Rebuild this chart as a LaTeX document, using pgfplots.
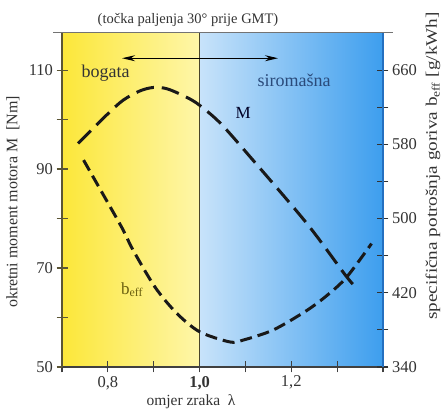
\documentclass[border=0pt]{standalone}
\usepackage{pgfplots}
\pgfplotsset{compat=1.18}
\usepackage{fontspec}
\setmainfont{Liberation Serif}
\usetikzlibrary{arrows.meta}

\definecolor{yelL}{HTML}{FCE73A}
\definecolor{yelR}{HTML}{FEF6A8}
\definecolor{bluL}{HTML}{C8E3FA}
\definecolor{bluR}{HTML}{3D9EEE}
\definecolor{olive}{HTML}{5B5535}
\definecolor{rblue}{HTML}{2470C0}
\definecolor{beffc}{HTML}{6B6010}
\definecolor{siro}{HTML}{2A4A7A}

\pgfplotsset{
  common/.style={
    at={(0,0)}, anchor=south west,
    scale only axis, width=321pt, height=334pt,
    xmin=0.7, xmax=1.4,
    tick align=center,
    major tick length=11pt,
    tick label style={font=\fontsize{16.5}{16.5}\selectfont, text=black!80},
  },
}

\begin{document}
\begin{tikzpicture}
\begin{axis}[common,
  ymin=50, ymax=117.5,
  axis on top,
  axis x line*=bottom, axis y line*=left,
  x axis line style={-, line width=1.6pt, draw=black!75},
  y axis line style={-, line width=2pt, draw=olive},
  xtick={0.7,0.8,0.9,1.0,1.1,1.2,1.3,1.4},
  xticklabels={,{0,8},,\textbf{1,0},,{1,2},,},
  ytick={50,60,70,80,90,100,110},
  yticklabels={50,,70,,90,,110},
  xtick style={line width=1.2pt, draw=black!75},
  ytick style={line width=1.2pt, draw=olive},
  clip=false,
]
% background regions
\shade[left color=yelL, right color=yelR] (axis cs:0.7,50) rectangle (axis cs:1.0,117.5);
\shade[left color=bluL, right color=bluR] (axis cs:1.0,50) rectangle (axis cs:1.4,117.5);
\draw[line width=1.4pt, draw=olive!80!black] (axis cs:1.0,50) -- (axis cs:1.0,117.5);

% torque M [Nm]
\addplot[smooth, line width=3pt, color=black!90, dash pattern=on 18pt off 8pt]
  coordinates {
    (0.735,95.2) (0.797,100.9) (0.833,103.9) (0.870,105.8) (0.900,106.5)
    (0.930,106.2) (0.972,104.5) (1.000,102.9) (1.045,99.3) (1.110,92.5)
    (1.234,79.0) (1.321,68.2) (1.345,65.8)
  };

\draw[{Stealth[length=13pt,width=6pt]}-{Stealth[length=13pt,width=6pt]}, line width=1pt]
  (axis cs:0.831,112.4) -- (axis cs:1.171,112.4);
\node[anchor=west, font=\fontsize{18}{18}\selectfont, text=black!80] at (axis cs:0.735,109.4) {bogata};
\node[font=\fontsize{18}{18}\selectfont, text=siro] at (axis cs:1.206,108.0) {siromašna};
\node[font=\fontsize{17}{17}\selectfont, text=black!85!blue] at (axis cs:1.095,101.3) {M};
\node[font=\fontsize{17}{17}\selectfont, text=beffc] at (axis cs:0.853,65.6) {b\textsubscript{eff}};
\end{axis}

\begin{axis}[common,
  ymin=340, ymax=700,
  axis x line=none, axis y line*=right,
  y axis line style={-, line width=2pt, draw=rblue},
  ytick={340,380,420,460,500,540,580,620,660},
  yticklabels={340,,420,,500,,580,,660},
  ytick style={line width=1.2pt, draw=black!80},
]
% specific fuel consumption b_eff [g/kWh]
\addplot[smooth, line width=3pt, color=black!90, dash pattern=on 12pt off 6pt]
  coordinates {
    (0.747,563) (0.800,517) (0.833,488) (0.855,466) (0.903,426)
    (0.950,398) (1.000,378) (1.066,367) (1.095,369) (1.161,380)
    (1.234,401) (1.280,418) (1.321,437) (1.375,473)
  };
\end{axis}

\draw[line width=1pt, draw=black!55] (-9pt,334pt) -- (331pt,334pt);
\node[font=\fontsize{14.5}{14.5}\selectfont, text=black!80] at (126pt,347pt) {(točka paljenja 30° prije GMT)};
\node[font=\fontsize{15.5}{15.5}\selectfont, text=black!80] at (129pt,-35pt) {omjer zraka\ \ λ};
\node[rotate=90, font=\fontsize{16}{16}\selectfont, text=black!80] at (-49pt,165pt) {okretni moment motora M\ \ [Nm]};
\node[rotate=90, font=\fontsize{16}{16}\selectfont, text=black!80] at (371pt,201pt)
  {\scalebox{1.2}[1]{specifična potrošnja goriva b\textsubscript{eff} [g/kWh]}};

\pgfresetboundingbox
\path[use as bounding box] (-62pt,-44pt) rectangle (381pt,367pt);
\end{tikzpicture}
\end{document}
